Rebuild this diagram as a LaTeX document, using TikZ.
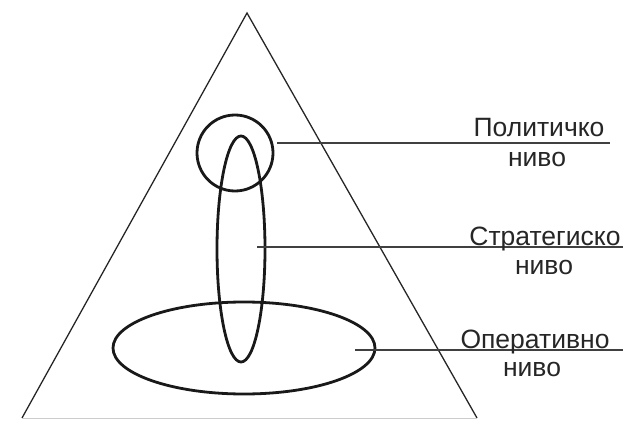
\documentclass[tikz,border=0pt]{standalone}
\usepackage{fontspec}
\setmainfont{Liberation Sans}
\usetikzlibrary{positioning,calc}

\tikzset{
    ring/.style={line width=2.8pt, black!90},
    leader/.style={line width=1.1pt, black!75},
    levellabel/.style={font=\fontsize{26.5}{30}\selectfont, text=black!85, inner sep=0pt}
}

\begin{document}
\begin{tikzpicture}[x=1pt, y=-1pt]
    \useasboundingbox (0,0) rectangle (623,422);

    % Draw the pyramid
    \coordinate (top) at (247,13);
    \coordinate (baseL) at (22,418);
    \coordinate (baseR) at (477,418);
    \draw[line width=1.3pt, black!85] (baseL) -- (top) -- (baseR);
    \draw[line width=0.8pt, black!20] (baseL) -- (baseR);

    % Levels
    \draw[ring] (244,348) ellipse [x radius=131, y radius=46];
    \draw[ring] (241,249) ellipse [x radius=24, y radius=113];
    \draw[ring] (235,153) circle [radius=38];

    % Leader lines
    \coordinate (polA) at (277,143);
    \coordinate (polB) at (610,143);
    \coordinate (strA) at (257,247);
    \coordinate (strB) at (623,247);
    \coordinate (opA) at (355,350);
    \coordinate (opB) at (623,350);
    \draw[leader] (polA) -- (polB);
    \draw[leader] (strA) -- (strB);
    \draw[leader] (opA) -- (opB);

    % Labels
    \node[levellabel, anchor=base] (pol) at (539,137) {Политичко};
    \node[levellabel, anchor=base] (polniv) at (537,167) {ниво};
    \node[levellabel, anchor=base] (str) at (545,245) {Стратегиско};
    \node[levellabel, anchor=base] (strniv) at (544,274) {ниво};
    \node[levellabel, anchor=base] (op) at (535,348) {Оперативно};
    \node[levellabel, anchor=base] (opniv) at (532,376) {ниво};
\end{tikzpicture}
\end{document}
